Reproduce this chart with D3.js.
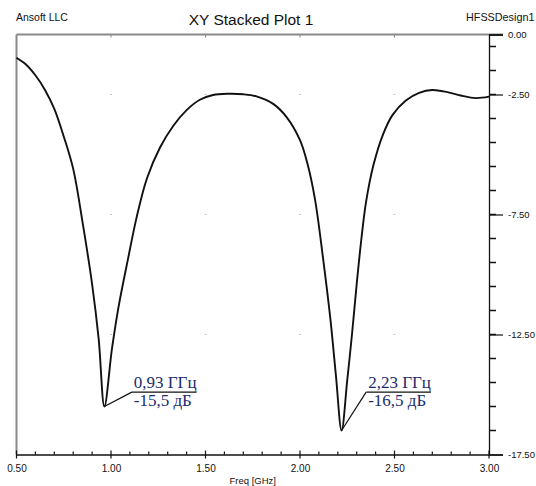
<!DOCTYPE html>
<html>
<head>
<meta charset="utf-8">
<script src="https://cdn.jsdelivr.net/npm/d3@7/dist/d3.min.js"></script>
<style>
  html, body { margin: 0; padding: 0; background: #fff; }
  svg { display: block; }
</style>
</head>
<body>
<svg id="chart" width="536" height="486"></svg>
<script>
// ---- data ----
const freqGHz = [0.50, 0.55, 0.60, 0.65, 0.70, 0.75, 0.80, 0.85, 0.90, 0.935, 0.965,
  1.005, 1.04, 1.09, 1.135, 1.19, 1.26, 1.33, 1.40, 1.47, 1.54, 1.62, 1.70, 1.77,
  1.86, 1.93, 2.00, 2.04, 2.08, 2.12, 2.16, 2.19, 2.22, 2.25, 2.275, 2.30, 2.325,
  2.35, 2.39, 2.44, 2.49, 2.56, 2.63, 2.70, 2.78, 2.85, 2.93, 3.00];
const s11dB = [-0.97, -1.25, -1.70, -2.30, -3.10, -4.25, -5.60, -7.85, -10.4, -12.7, -15.5,
  -13.1, -11.35, -9.35, -7.64, -6.0, -4.7, -3.8, -3.15, -2.72, -2.52, -2.47, -2.49, -2.58,
  -2.9, -3.45, -4.4, -5.4, -6.9, -9.2, -11.8, -14.2, -16.5, -14.4, -12.5, -10.4, -8.5,
  -6.95, -5.4, -4.15, -3.35, -2.75, -2.43, -2.31, -2.40, -2.54, -2.65, -2.59];

const xTickValues = [0.5, 1.0, 1.5, 2.0, 2.5, 3.0];
const xTickLabels = ["0.50", "1.00", "1.50", "2.00", "2.50", "3.00"];
const yTickValues = [0, -2.5, -7.5, -12.5, -17.5];
const yTickLabels = ["0.00", "-2.50", "-7.50", "-12.50", "-17.50"];

const markerFreq = [0.965, 2.22];
const markerDb = [-15.5, -16.5];
const markerTop = ["0,93 ГГц", "2,23 ГГц"];
const markerBottom = ["-15,5 дБ", "-16,5 дБ"];
const labelFreq = [1.11, 2.35];
const labelDb = [-14.9, -14.9];

// ---- layout ----
const svg = d3.select("#chart");
const pLeft = 16.5, pRight = 489, pTop = 34.5, pBottom = 454.5;
const x = d3.scaleLinear().domain([0.5, 3.0]).range([pLeft, pRight]);
const y = d3.scaleLinear().domain([0, -17.5]).range([pTop, pBottom]);
const sans = "'Liberation Sans', Arial, sans-serif";
const serif = "'Liberation Serif', 'Times New Roman', serif";

// header texts
svg.append("text").attr("x", 16).attr("y", 21).attr("font-family", sans)
  .attr("font-size", 10.5).attr("fill", "#111").text("Ansoft LLC");
svg.append("text").attr("x", 251).attr("y", 24.5).attr("text-anchor", "middle")
  .attr("font-family", sans).attr("font-size", 15.5).attr("fill", "#111").text("XY Stacked Plot 1");
svg.append("text").attr("x", 466).attr("y", 21).attr("font-family", sans)
  .attr("font-size", 10.8).attr("fill", "#111").text("HFSSDesign1");

// faint grid dots
const gridX = xTickValues.slice(1, -1), gridY = yTickValues.slice(1, -1);
gridX.forEach(gx => gridY.forEach(gy => {
  svg.append("rect").attr("x", x(gx) - 1).attr("y", y(gy) - 0.5).attr("width", 2).attr("height", 1)
    .attr("fill", "#c8c8c8");
}));

// top border (gray), extends to right major tick
svg.append("line").attr("x1", pLeft).attr("x2", pRight + 14).attr("y1", pTop).attr("y2", pTop)
  .attr("stroke", "#8a8a8a").attr("stroke-width", 2);
svg.append("g").selectAll("line").data(xTickValues.slice(1, -1)).join("line")
  .attr("x1", d => x(d)).attr("x2", d => x(d)).attr("y1", pTop).attr("y2", pTop + 3)
  .attr("stroke", "#8a8a8a").attr("stroke-width", 1);
// left axis gray
svg.append("line").attr("x1", pLeft).attr("x2", pLeft).attr("y1", pTop).attr("y2", pBottom)
  .attr("stroke", "#8a8a8a").attr("stroke-width", 2);

// bottom axis
const xAxis = d3.axisBottom(x).tickValues(xTickValues).tickFormat((d, i) => xTickLabels[i])
  .tickSize(0).tickPadding(0);
const gX = svg.append("g").attr("transform", `translate(0,${pBottom})`).call(xAxis);
gX.select(".domain").attr("stroke", "#111").attr("stroke-width", 1.3);
gX.selectAll(".tick text").attr("font-family", sans).attr("font-size", 10).attr("fill", "#111")
  .attr("dy", null).attr("y", 17);
const xMinor = d3.range(0.6, 3.0, 0.1).filter(v => Math.abs(v * 2 - Math.round(v * 2)) > 1e-6);
svg.append("g").selectAll("line").data(xMinor).join("line")
  .attr("x1", d => x(d)).attr("x2", d => x(d)).attr("y1", pBottom).attr("y2", pBottom - 3)
  .attr("stroke", "#111").attr("stroke-width", 1.2);
svg.append("g").selectAll("line").data(xTickValues).join("line")
  .attr("x1", d => x(d)).attr("x2", d => x(d)).attr("y1", pBottom - 4).attr("y2", pBottom + 4)
  .attr("stroke", "#111").attr("stroke-width", 1.2);
svg.append("text").attr("x", (pLeft + pRight) / 2).attr("y", 484).attr("text-anchor", "middle")
  .attr("font-family", sans).attr("font-size", 9.5).attr("fill", "#111").text("Freq [GHz]");

// right axis
const yAxis = d3.axisRight(y).tickValues(yTickValues).tickFormat((d, i) => yTickLabels[i])
  .tickSize(14).tickPadding(5);
const gY = svg.append("g").attr("transform", `translate(${pRight},0)`).call(yAxis);
gY.select(".domain").attr("stroke", "#111").attr("stroke-width", 1.3);
gY.selectAll(".tick line").attr("stroke", "#111").attr("stroke-width", 1.2);
gY.selectAll(".tick text").attr("font-family", sans).attr("font-size", 9.5).attr("fill", "#111");
const yMinor = d3.range(-0.5, -17.5, -1);
svg.append("g").selectAll("line").data(yMinor).join("line")
  .attr("x1", pRight).attr("x2", pRight + 7).attr("y1", d => y(d)).attr("y2", d => y(d))
  .attr("stroke", "#111").attr("stroke-width", 1.5);

// curve
const pts = freqGHz.map((f, i) => [f, s11dB[i]]);
svg.append("path").datum(pts)
  .attr("d", d3.line().x(d => x(d[0])).y(d => y(d[1])).curve(d3.curveCatmullRom.alpha(0.5)))
  .attr("fill", "none").attr("stroke", "#111").attr("stroke-width", 1.9)
  .attr("stroke-linejoin", "round");

// markers
const textColor = "#1d2b6e";
markerFreq.forEach((f, i) => {
  const px = x(f), py = y(markerDb[i]);
  const lx = x(labelFreq[i]), ly = y(labelDb[i]);
  const g = svg.append("g");
  const t1 = g.append("text").attr("x", lx + 2).attr("y", ly - 4).attr("font-family", serif)
    .attr("font-size", 17).attr("fill", textColor).text(markerTop[i]);
  const t2 = g.append("text").attr("x", lx + 2).attr("y", ly + 14).attr("font-family", serif)
    .attr("font-size", 17).attr("fill", textColor).text(markerBottom[i]);
  const w = Math.max(t1.node().getComputedTextLength(), t2.node().getComputedTextLength());
  g.append("line").attr("x1", px).attr("y1", py).attr("x2", lx).attr("y2", ly)
    .attr("stroke", "#111").attr("stroke-width", 1.2);
  g.append("line").attr("x1", lx).attr("y1", ly).attr("x2", lx + w + 2).attr("y2", ly)
    .attr("stroke", "#111").attr("stroke-width", 1.2);
});
</script>
</body>
</html>
